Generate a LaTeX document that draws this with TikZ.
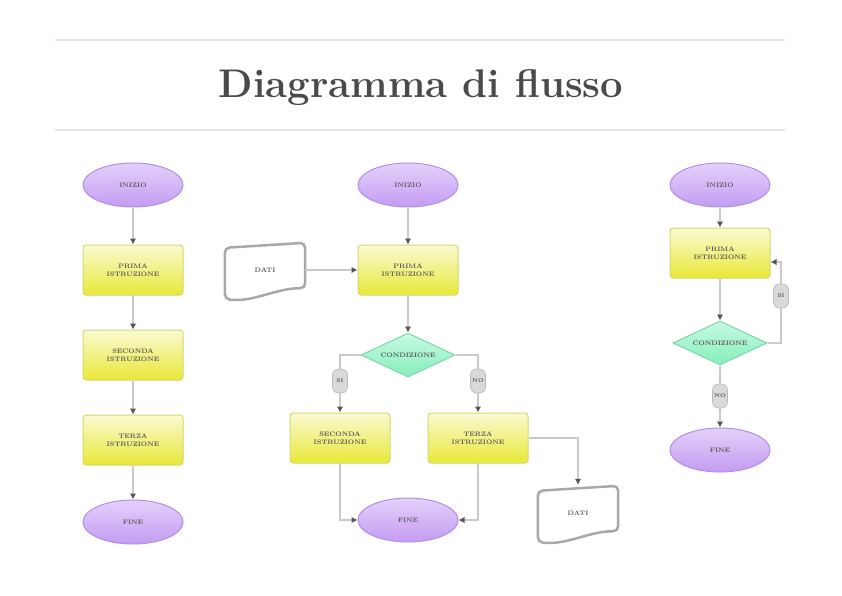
\documentclass[tikz,border=0pt]{standalone}
\usetikzlibrary{shapes.geometric,arrows.meta}
\definecolor{lineg}{HTML}{CACACA}
\definecolor{arrc}{HTML}{555555}
\definecolor{ellb}{HTML}{B090E4}
\definecolor{elltop}{HTML}{E4D0FA}
\definecolor{ellbot}{HTML}{C49CF2}
\definecolor{procb}{HTML}{D6D670}
\definecolor{proctop}{HTML}{FAFAD2}
\definecolor{procbot}{HTML}{E8E838}
\definecolor{condb}{HTML}{7CD8AC}
\definecolor{condtop}{HTML}{C6FAE2}
\definecolor{condbot}{HTML}{86EEBA}
\definecolor{txt}{HTML}{5A5A5A}
\definecolor{titlec}{HTML}{4A4A4A}
\definecolor{hrc}{HTML}{E6E6E6}
\definecolor{lblfill}{HTML}{D9D9D9}
\definecolor{lblb}{HTML}{B8B8B8}
\definecolor{datb}{HTML}{A8A8A8}
\begin{document}
\begin{tikzpicture}[x=1pt,y=-1pt,
  term/.style={ellipse, draw=ellb, line width=1pt, top color=elltop, bottom color=ellbot,
    minimum width=100pt, minimum height=44pt, inner sep=1pt,
    font=\fontsize{6.5}{7.5}\selectfont\bfseries, text=txt},
  proc/.style={rectangle, rounded corners=3pt, draw=procb, line width=1pt, top color=proctop, bottom color=procbot,
    minimum width=100pt, minimum height=50pt, align=center,
    font=\fontsize{6.5}{7.5}\selectfont\bfseries, text=txt},
  cond/.style={diamond, aspect=2.2, draw=condb, line width=1pt, top color=condtop, bottom color=condbot,
    minimum width=94pt, minimum height=44pt, inner sep=0pt,
    font=\fontsize{6.5}{7.5}\selectfont\bfseries, text=txt},
  dati/.style={rectangle, minimum width=80pt, minimum height=56pt,
    font=\fontsize{6.5}{7.5}\selectfont\bfseries, text=txt},
  datline/.style={draw=datb, line width=2.5pt, fill=white, rounded corners=5pt},
  conn/.style={draw=lineg, line width=2.5pt, -{Latex[length=6pt,width=6.5pt,color=arrc]}},
  lbl/.style={rounded corners=6pt, fill=lblfill, draw=lblb, line width=0.6pt,
    minimum width=15pt, minimum height=24pt, inner sep=1pt,
    font=\fontsize{5.5}{6.5}\selectfont\bfseries, text=txt},
  hr/.style={draw=hrc, line width=1.5pt}]
\useasboundingbox (0,0) rectangle (842,595);

% header
\coordinate (h1a) at (55,40); \coordinate (h1b) at (785,40);
\coordinate (h2a) at (55,130); \coordinate (h2b) at (785,130);
\draw[hr] (h1a) -- (h1b);
\draw[hr] (h2a) -- (h2b);
\node[font=\fontsize{40}{40}\selectfont\bfseries, text=titlec] (title) at (421,88) {Diagramma di flusso};

% column 1
\node[term] (i1) at (133,185) {INIZIO};
\node[proc] (p1) at (133,270) {PRIMA\\ISTRUZIONE};
\node[proc] (p2) at (133,355) {SECONDA\\ISTRUZIONE};
\node[proc] (p3) at (133,440) {TERZA\\ISTRUZIONE};
\node[term] (f1) at (133,522) {FINE};
\draw[conn] (i1) -- (p1);
\draw[conn] (p1) -- (p2);
\draw[conn] (p2) -- (p3);
\draw[conn] (p3) -- (f1);

% column 2
\node[term] (i2) at (408,185) {INIZIO};
\node[proc] (q1) at (408,270) {PRIMA\\ISTRUZIONE};
\node[dati] (d1) at (265,270) {};
\draw[datline] ([yshift=-6pt]d1.north west) -- ([yshift=-1pt]d1.north east) -- ([yshift=10pt]d1.south east)
  .. controls ([xshift=-30pt,yshift=10pt]d1.south east) and ([xshift=30pt,yshift=-4pt]d1.south west) .. ([yshift=-1pt]d1.south west) -- cycle;
\node[dati] (d1t) at (d1) {DATI};
\node[cond] (c1) at (408,355) {CONDIZIONE};
\node[proc] (q2) at (340,438) {SECONDA\\ISTRUZIONE};
\node[proc] (q3) at (478,438) {TERZA\\ISTRUZIONE};
\node[term] (f2) at (408,520) {FINE};
\node[dati] (d2) at (578,513) {};
\draw[datline] ([yshift=-6pt]d2.north west) -- ([yshift=-1pt]d2.north east) -- ([yshift=10pt]d2.south east)
  .. controls ([xshift=-30pt,yshift=10pt]d2.south east) and ([xshift=30pt,yshift=-4pt]d2.south west) .. ([yshift=-1pt]d2.south west) -- cycle;
\node[dati] (d2t) at (d2) {DATI};
\draw[conn] (i2) -- (q1);
\draw[conn] (d1.east) -- (q1.west);
\draw[conn] (q1) -- (c1);
\draw[conn] (c1.west) -| (q2.north);
\draw[conn] (c1.east) -| (q3.north);
\draw[conn] (q2.south) |- (f2.west);
\draw[conn] (q3.south) |- (f2.east);
\draw[conn] (q3.east) -| (d2.north);
\node[lbl] (l1) at (340,381) {SI};
\node[lbl] (l2) at (478,381) {NO};

% column 3
\node[term] (i3) at (720,185) {INIZIO};
\node[proc] (r1) at (720,253) {PRIMA\\ISTRUZIONE};
\node[cond] (c3) at (720,343) {CONDIZIONE};
\node[term] (f3) at (720,450) {FINE};
\coordinate (lp) at (781,343);
\draw[conn] (i3) -- (r1);
\draw[conn] (r1) -- (c3);
\draw[conn] (c3) -- (f3);
\draw[conn] (c3.east) -- (lp) |- ([yshift=-9pt]r1.east);
\node[lbl] (l3) at (781,296) {SI};
\node[lbl] (l4) at (720,396) {NO};
\end{tikzpicture}
\end{document}
